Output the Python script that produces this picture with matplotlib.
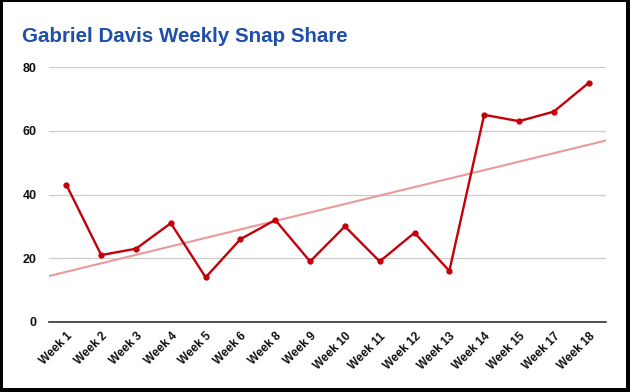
import matplotlib.pyplot as plt
import numpy as np
from matplotlib.patches import Rectangle

# data
weeks = ['Week 1', 'Week 2', 'Week 3', 'Week 4', 'Week 5', 'Week 6', 'Week 8', 'Week 9',
         'Week 10', 'Week 11', 'Week 12', 'Week 13', 'Week 14', 'Week 15', 'Week 17', 'Week 18']
snap_share = [43, 21, 23, 31, 14, 26, 32, 19, 30, 19, 28, 16, 65, 63, 66, 75]
y_ticks = [0, 20, 40, 60, 80]

plt.rcParams['font.family'] = ['Liberation Sans', 'DejaVu Sans']

fig = plt.figure(figsize=(6.3, 3.92), dpi=100)
fig.patch.set_facecolor('black')
# white card inside the black frame
fig.patches.append(Rectangle((3/630, 4/392), 623/630, 386/392, transform=fig.transFigure,
                             facecolor='white', edgecolor='none', zorder=-5))

ax = fig.add_axes([49/630, 1-322/392, 557/630, 255/392])
ax.set_zorder(2)
ax.set_facecolor('none')

x = np.arange(len(weeks))
ax.plot(x, snap_share, color='#c4000a', linewidth=1.7, marker='o', markersize=3.5, zorder=3)

# linear trendline
slope, icpt = np.polyfit(x, snap_share, 1)
xt = np.array([-0.5, len(weeks) - 0.5])
ax.plot(xt, slope*xt + icpt, color='#eb9999', linewidth=1.5, zorder=2)

ax.set_xlim(-0.5, len(weeks) - 0.5)
ax.set_ylim(0, 80)
ax.set_yticks(y_ticks)
ax.set_xticks(x)
ax.set_xticklabels(weeks, rotation=45, ha='right', rotation_mode='anchor',
                   fontsize=8.5, fontweight='bold', color='#111111')
ax.tick_params(axis='x', length=0, pad=6)
ax.tick_params(axis='y', length=0, pad=9, labelsize=9, labelcolor='#111111')
for lab in ax.get_yticklabels():
    lab.set_fontweight('bold')

ax.grid(axis='y', color='#cccccc', linewidth=0.9)
ax.set_axisbelow(True)
for s in ['top', 'right', 'left']:
    ax.spines[s].set_visible(False)
ax.spines['bottom'].set_color('#333333')
ax.spines['bottom'].set_linewidth(1.2)

fig.text(22/630, 1-36/392, 'Gabriel Davis Weekly Snap Share', color='#1f4fa6',
         fontsize=14.8, fontweight='bold', va='center', ha='left', zorder=3)

fig.savefig('out.png', dpi=100, facecolor=fig.get_facecolor())
